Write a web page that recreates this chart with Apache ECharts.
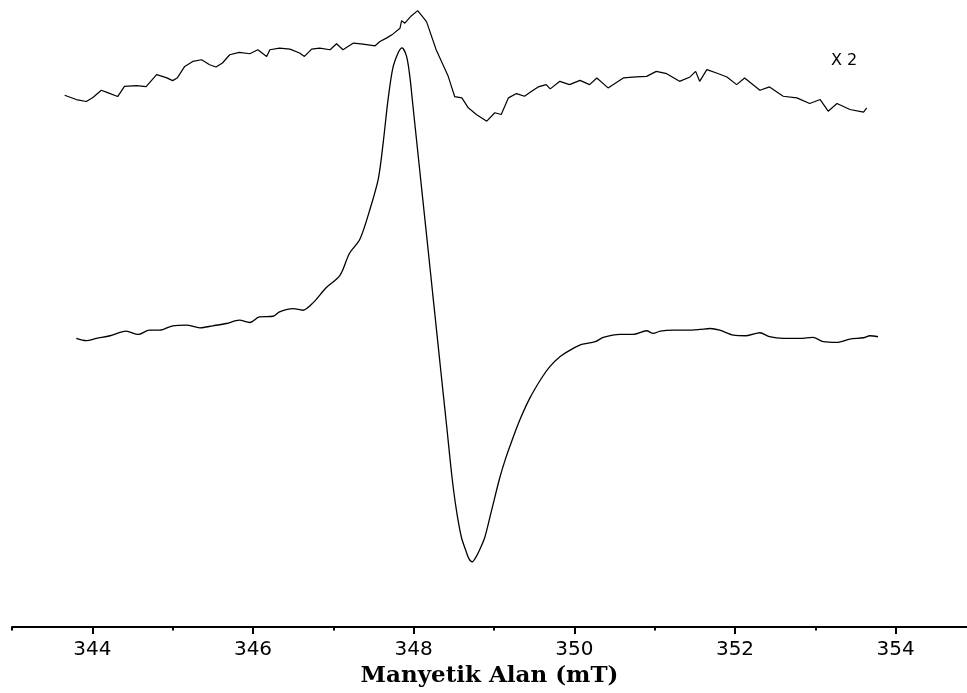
<!DOCTYPE html>
<html>
<head>
<meta charset="utf-8">
<script src="https://cdn.jsdelivr.net/npm/echarts@6/dist/echarts.min.js"></script>
<style>html,body{margin:0;padding:0;background:#fff;}#c{width:967px;height:693px;}</style>
</head>
<body>
<div id="c"></div>
<script>
// Magnetic field (mT) and signal (arbitrary units) for the amplified trace (x2)
const upperField = [343.655,343.80,343.925,344.007,344.112,344.19,344.315,344.40,344.55,344.67,344.80,344.92,345.00,345.06,345.15,345.25,345.36,345.46,345.54,345.62,345.71,345.83,345.96,346.06,346.17,346.21,346.33,346.46,346.58,346.64,346.73,346.83,346.96,347.04,347.12,347.25,347.37,347.52,347.58,347.66,347.74,347.83,347.85,347.89,347.97,348.05,348.16,348.28,348.43,348.51,348.60,348.68,348.78,348.91,349.01,349.09,349.18,349.28,349.38,349.45,349.55,349.65,349.70,349.82,349.94,350.07,350.19,350.28,350.42,350.61,350.77,350.90,351.02,351.15,351.31,351.44,351.51,351.56,351.65,351.77,351.90,352.02,352.12,352.31,352.43,352.60,352.77,352.93,353.06,353.16,353.27,353.43,353.60,353.64];
const upperSignal = [534.3,530,528,532,539.3,537,533,543.3,544,543,555,552,549,552,563.3,568.3,570,565,562.7,566.7,575,577.3,576,580,573.3,580,581.7,580.7,576.7,573.3,580.7,581.7,580,586,580,586.7,585.7,584,588.3,591.7,595.7,601.7,609.3,606.7,614,619.3,608.3,580,553.3,533,531.7,521.7,515,508.3,516.7,515,531.7,536,533.3,537.3,542.7,545,540.7,548.3,545,549.3,545,551.7,541.7,551.7,552.7,553.3,558.3,556,548.3,552.7,558.3,548.3,560,556.7,552.7,545,551.7,539.3,542.7,533.3,531.7,526,530,518.3,526,520,517.3,521.7];

// Original trace
const lowerField = [343.80,343.925,344.05,344.22,344.42,344.57,344.71,344.84,345.00,345.17,345.34,345.50,345.67,345.83,345.96,346.08,346.25,346.33,346.50,346.62,346.75,346.91,347.08,347.20,347.33,347.45,347.56,347.62,347.68,347.74,347.81,347.855,347.91,347.951,347.989,348.076,348.163,348.25,348.337,348.412,348.478,348.533,348.595,348.649,348.686,348.727,348.773,348.823,348.885,348.969,349.072,349.147,349.222,349.321,349.446,349.591,349.695,349.82,349.97,350.09,350.26,350.36,350.57,350.73,350.90,350.98,351.07,351.23,351.40,351.56,351.69,351.81,351.98,352.14,352.31,352.43,352.60,352.81,352.97,353.10,353.27,353.43,353.60,353.68,353.78];
const lowerSignal = [290,287.7,290,292.7,297.3,294,298.3,298.3,302.7,303.3,300.7,302.7,305,308.3,306,311.7,312.3,316.7,320,318.3,326,341,353,375.3,389.6,418.2,450.4,486.2,529.1,561.3,577.4,582,573.8,554,525.3,458.5,392,325,258,201,150,117,90,77,69,65.5,70,78,90,117,150,170,187,208,230,250,261.7,271.7,279.3,284,286.7,291,294,294,297.7,295,297.3,298.3,298.3,299,300,298.3,293.3,292.7,295.7,291.7,290,290,291,286.7,286,289.3,290.7,292.7,291.7];

const majorTicks = [344,346,348,350,352,354];
const minorTicks = [343,345,347,349,351,353];
const axisTitle = 'Manyetik Alan (mT)';
const scaleNote = 'X 2';

const zip = (a, b) => a.map((v, i) => [v, b[i]]);

const chart = echarts.init(document.getElementById('c'), null, {renderer: 'canvas'});
chart.setOption({
  animation: false,
  backgroundColor: '#ffffff',
  grid: {left: 12, right: 0, top: 0, bottom: 63, containLabel: false},
  xAxis: [{
    type: 'value', min: 343, max: 354.888, position: 'bottom',
    axisLine: {show: true, lineStyle: {color: '#000', width: 2}},
    axisTick: {show: true, customValues: majorTicks, length: 7, lineStyle: {color: '#000', width: 2}},
    axisLabel: {show: true, customValues: majorTicks, margin: 13, color: '#000',
      fontFamily: 'DejaVu Sans', fontSize: 20},
    splitLine: {show: false},
    name: axisTitle, nameLocation: 'middle', nameGap: 36,
    nameTextStyle: {color: '#000', fontFamily: 'DejaVu Serif', fontWeight: 'bold', fontSize: 23}
  }, {
    type: 'value', min: 343, max: 354.888, position: 'bottom', offset: 0,
    axisLine: {show: false},
    axisTick: {show: true, customValues: minorTicks, length: 3.5, lineStyle: {color: '#000', width: 2}},
    axisLabel: {show: false},
    splitLine: {show: false}
  }],
  yAxis: {type: 'value', min: 0, max: 630, show: false, splitLine: {show: false}},
  graphic: [{
    type: 'text', x: 844, y: 61,
    style: {text: scaleNote, fill: '#000', font: '16px "DejaVu Sans"', textAlign: 'center', textVerticalAlign: 'middle'}
  }],
  series: [{
    type: 'line', xAxisIndex: 0, data: zip(upperField, upperSignal), showSymbol: false,
    lineStyle: {color: '#000', width: 1.2}, smooth: false
  }, {
    type: 'line', xAxisIndex: 0, data: zip(lowerField, lowerSignal), showSymbol: false,
    lineStyle: {color: '#000', width: 1.3}, smooth: 0.3
  }]
});
</script>
</body>
</html>
